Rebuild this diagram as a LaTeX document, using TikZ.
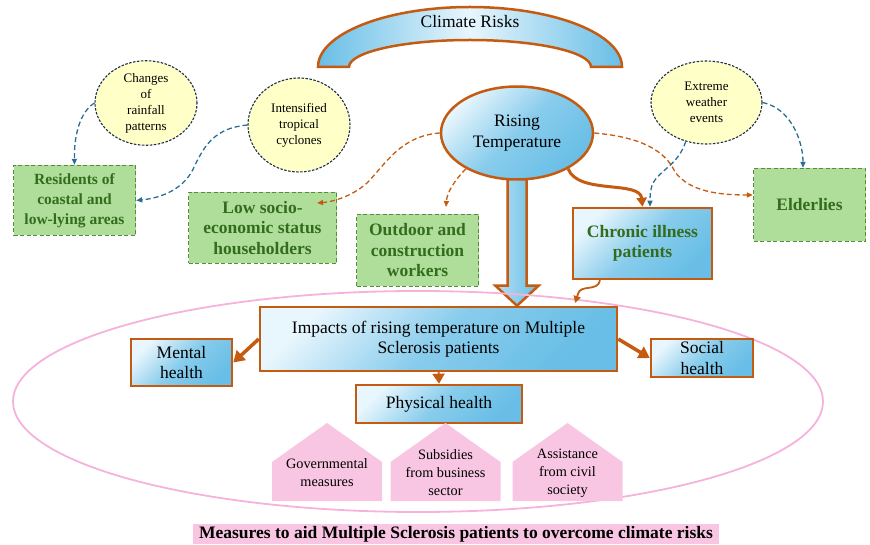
\documentclass[tikz,border=0pt]{standalone}
\usepackage{fontspec}
\setmainfont{Liberation Serif}
\usepackage{tikz}
\usetikzlibrary{arrows.meta,shapes.geometric,backgrounds,calc}
\definecolor{rustOrange}{RGB}{197,90,17}
\definecolor{skyDark}{RGB}{104,190,230}
\definecolor{skyLight}{RGB}{232,246,253}
\definecolor{leafFill}{RGB}{175,222,155}
\definecolor{leafLine}{RGB}{88,140,58}
\definecolor{leafText}{RGB}{52,108,30}
\definecolor{creamFill}{RGB}{255,255,200}
\definecolor{navyLine}{RGB}{30,45,75}
\definecolor{tealDash}{RGB}{40,110,150}
\definecolor{rosePink}{RGB}{248,198,226}
\definecolor{roseLine}{RGB}{246,178,220}

\begin{document}
\begin{tikzpicture}[x=1pt,y=-1pt,
		skyBox/.style={draw=rustOrange,line width=2.5pt,top color=skyLight,bottom color=skyDark,middle color=skyDark!75!skyLight,shading angle=45,inner sep=0pt,align=center,font=\fontsize{17.5}{20.5}\selectfont},
		skyBlob/.style={skyBox,ellipse},
		leafBox/.style={draw=leafLine,fill=leafFill,dash pattern=on 4pt off 2.5pt,line width=1.3pt,inner sep=0pt,align=center,text=leafText,font=\bfseries\fontsize{17.5}{20.5}\selectfont},
		creamBlob/.style={ellipse,draw=navyLine,fill=creamFill,dash pattern=on 2.5pt off 1.5pt,line width=1.1pt,inner sep=0pt,align=center,font=\fontsize{13}{16}\selectfont},
		houseText/.style={align=center,inner sep=0pt,font=\fontsize{14.3}{18}\selectfont},
		capStrip/.style={fill=rosePink,inner sep=0pt,minimum width=526,minimum height=20,font=\bfseries\fontsize{17.5}{20}\selectfont},
		skyArch/.style={draw=rustOrange,line width=2.5pt,left color=skyDark,right color=skyDark,middle color=skyLight},
		skyArrow/.style={draw=rustOrange,line width=2.5pt,left color=skyLight!60!skyDark,right color=skyDark},
		tealArrow/.style={draw=tealDash,line width=1.3pt,dash pattern=on 5pt off 3pt,-{Triangle[length=6pt,width=5pt]}},
		rustArrow/.style={draw=rustOrange,line width=1.3pt,dash pattern=on 5pt off 3pt,-{Triangle[length=6pt,width=5pt]}},
		boldArrow/.style={draw=rustOrange,line width=3.5pt,-{Triangle[length=11pt,width=13pt]}}
	]
	\newcommand{\drawHouse}[3]{
		\fill[rosePink] (#2-55,501) -- (#2-55,462) -- (#2,423) -- (#2+55,462) -- (#2+55,501) -- cycle;
		\node[houseText] (#1) at (#2,473) {#3};
	}
	\useasboundingbox (0,0) rectangle (870,545);

	\draw[skyArch] (318,67) arc[start angle=180,end angle=0,x radius=152pt,y radius=60pt] -- (591,67) arc[start angle=0,end angle=180,x radius=121pt,y radius=27pt] -- cycle;
	\node[font=\fontsize{17.5}{20}\selectfont] (climateRisks) at (470,22) {Climate Risks};

	\node[skyBlob,minimum width=152,minimum height=93] (rising) at (517,133) {Rising\\Temperature};
	\node[creamBlob,minimum width=102,minimum height=82] (rainfall) at (146,103) {Changes\\of\\rainfall\\patterns};
	\node[creamBlob,minimum width=102,minimum height=94] (cyclones) at (299,125) {Intensified\\tropical\\cyclones};
	\node[creamBlob,minimum width=111,minimum height=83] (extreme) at (706.5,102.5) {Extreme\\weather\\events};

	\node[leafBox,font=\bfseries\fontsize{15.5}{20}\selectfont,minimum width=122,minimum height=70] (coastal) at (74.5,200.5) {Residents of\\coastal and\\low-lying areas};
	\node[leafBox,minimum width=148,minimum height=71] (lowSES) at (262.5,228) {Low socio-\\economic status\\householders};
	\node[leafBox,minimum width=122,minimum height=72] (outdoor) at (417.5,250.5) {Outdoor and\\construction\\workers};
	\node[leafBox,minimum width=112,minimum height=73] (elderlies) at (809.5,205) {Elderlies};
	\node[skyBox,text=leafText,font=\bfseries\fontsize{17.5}{20.5}\selectfont,minimum width=139,minimum height=71] (chronic) at (642.5,243.5) {Chronic illness\\patients};

	\node[skyBox,minimum width=357,minimum height=64] (impacts) at (438.5,339) {Impacts of rising temperature on Multiple\\Sclerosis patients};
	\node[skyBox,minimum width=101,minimum height=47] (mental) at (181.5,362.5) {Mental\\health};
	\node[skyBox,minimum width=102,minimum height=38] (social) at (702,358) {Social\\health};
	\node[skyBox,minimum width=166,minimum height=38] (physical) at (439,404) {Physical health};

	\drawHouse{govMeasures}{327}{Governmental\\measures}
	\drawHouse{bizSubsidies}{445.5}{Subsidies\\from business\\sector}
	\drawHouse{civilAid}{567.5}{Assistance\\from civil\\society}

	\node[capStrip] (measures) at (456,534) {Measures to aid Multiple Sclerosis patients to overcome climate risks};

	\begin{scope}[on background layer]
		\coordinate (shaftTop) at (rising.south);
		\coordinate (arrowTip) at (rising.south |- impacts.north);
		\draw[skyArrow] ($(shaftTop)+(-9.5,-6)$) -- ($(arrowTip)+(-9.5,-20)$) -- ($(arrowTip)+(-21.5,-20)$) -- (arrowTip) -- ($(arrowTip)+(21.5,-20)$) -- ($(arrowTip)+(9.5,-20)$) -- ($(shaftTop)+(9.5,-6)$) -- cycle;
		\draw[roseLine,line width=1.8pt] (418,401.5) ellipse[x radius=405pt,y radius=110.5pt];
	\end{scope}

	\coordinate (lowTip) at (317,203);
	\coordinate (outTip) at (446,207);
	\coordinate (squigTip) at (575,303);

	\draw[tealArrow] (rainfall.west) .. controls (80,112) and (74,135) .. (coastal.north);
	\draw[tealArrow] (cyclones.west) .. controls (215,128) and (205,145) .. (195,165) .. controls (185,190) and (160,198) .. (coastal.east);
	\draw[tealArrow] (extreme.-118) .. controls (678,165) and (660,170) .. (653,183) .. controls (650,190) and (650,197) .. ([xshift=7.5pt]chronic.north);
	\draw[tealArrow] (extreme.east) .. controls (790,108) and (803,140) .. ([xshift=-6.5pt]elderlies.north);

	\draw[rustArrow] (rising.west) .. controls (400,136) and (385,165) .. (367,183) .. controls (350,198) and (330,202) .. (lowTip);
	\draw[rustArrow] (rising.-145) .. controls (455,180) and (447,192) .. (outTip);
	\draw[rustArrow] (rising.east) .. controls (640,137) and (665,150) .. (675,172) .. controls (690,192) and (720,195) .. ([yshift=10pt]elderlies.west);
	\draw[draw=rustOrange,line width=3pt,-{Triangle[length=9pt,width=10pt]}] (rising.-35) .. controls (578,195) and (640,180) .. (chronic.north);
	\draw[draw=rustOrange,line width=1.8pt,-{Triangle[length=7pt,width=7pt]}] ([xshift=-42.5pt]chronic.south) .. controls (598,292) and (580,284) .. (578,294) -- (squigTip);

	\draw[boldArrow] (impacts.west) -- (mental.east);
	\draw[boldArrow] (impacts.east) -- (social.west);
	\draw[draw=rustOrange,line width=2pt,-{Triangle[length=10pt,width=12pt]}] (impacts.south) -- (physical.north);
\end{tikzpicture}
\end{document}
